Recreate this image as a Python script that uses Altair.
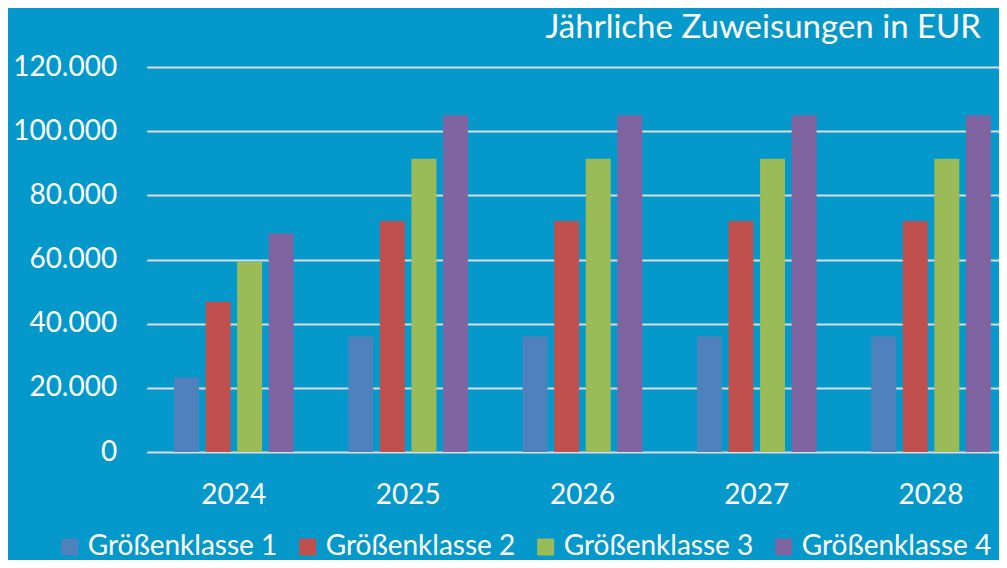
import altair as alt
import pandas as pd

years = ["2024", "2025", "2026", "2027", "2028"]
klassen = ["Größenklasse 1", "Größenklasse 2", "Größenklasse 3", "Größenklasse 4"]
g1 = [23300, 36100, 36100, 36100, 36100]
g2 = [46800, 72000, 72000, 72000, 72000]
g3 = [59200, 91400, 91400, 91400, 91400]
g4 = [68100, 105000, 105000, 105000, 105000]
colors = ["#4f81bd", "#c0504d", "#9bbb59", "#8064a2"]
y_ticks = [0, 20000, 40000, 60000, 80000, 100000, 120000]

rows = []
for k, series in zip(klassen, [g1, g2, g3, g4]):
    for y, v in zip(years, series):
        rows.append({"year": y, "klasse": k, "value": v})
df = pd.DataFrame(rows)

FONT = "Lato"

chart = alt.Chart(df, title=alt.TitleParams(
    "Jährliche Zuweisungen in EUR", anchor="end", fontSize=33, font=FONT,
    fontWeight="normal", color="white", offset=8, dx=-18)
).mark_bar().encode(
    x=alt.X("year:N", sort=years,
            scale=alt.Scale(paddingInner=0.3133, paddingOuter=0.1016, align=0.771),
            axis=alt.Axis(title=None, labelAngle=0, domain=False, ticks=False,
                          labelPadding=29, labelFontSize=28, labelFont=FONT,
                          labelColor="white", grid=False)),
    xOffset=alt.XOffset("klasse:N", sort=klassen,
                        scale=alt.Scale(paddingInner=0.21, paddingOuter=0)),
    y=alt.Y("value:Q", scale=alt.Scale(domain=[0, 120000]),
            axis=alt.Axis(title=None, values=y_ticks, domain=False, ticks=False,
                          labelPadding=30, labelFontSize=28, labelFont=FONT,
                          labelColor="white", gridColor="#dcdcdc", gridWidth=2.2,
                          labelExpr="replace(format(datum.value, ','), ',', '.')")),
    color=alt.Color("klasse:N", sort=klassen,
                    scale=alt.Scale(domain=klassen, range=colors),
                    legend=alt.Legend(title=None, orient="none", direction="horizontal",
                                      columns=4, legendX=-91, legendY=466,
                                      symbolType="square", symbolSize=289,
                                      symbolStrokeWidth=0, symbolOpacity=1,
                                      labelFontSize=28, labelFont=FONT, labelLimit=400,
                                      labelColor="white", labelOffset=4,
                                      columnPadding=16, padding=0)),
).properties(
    width=852.3, height=385,
    autosize=alt.AutoSizeParams(type="none"),
    padding={"left": 138.7, "top": 59, "right": 0, "bottom": 108},
    background="#0598cb",
).configure_view(stroke=None)

chart.save("out.html", embed_options={"renderer": "svg", "actions": False})
